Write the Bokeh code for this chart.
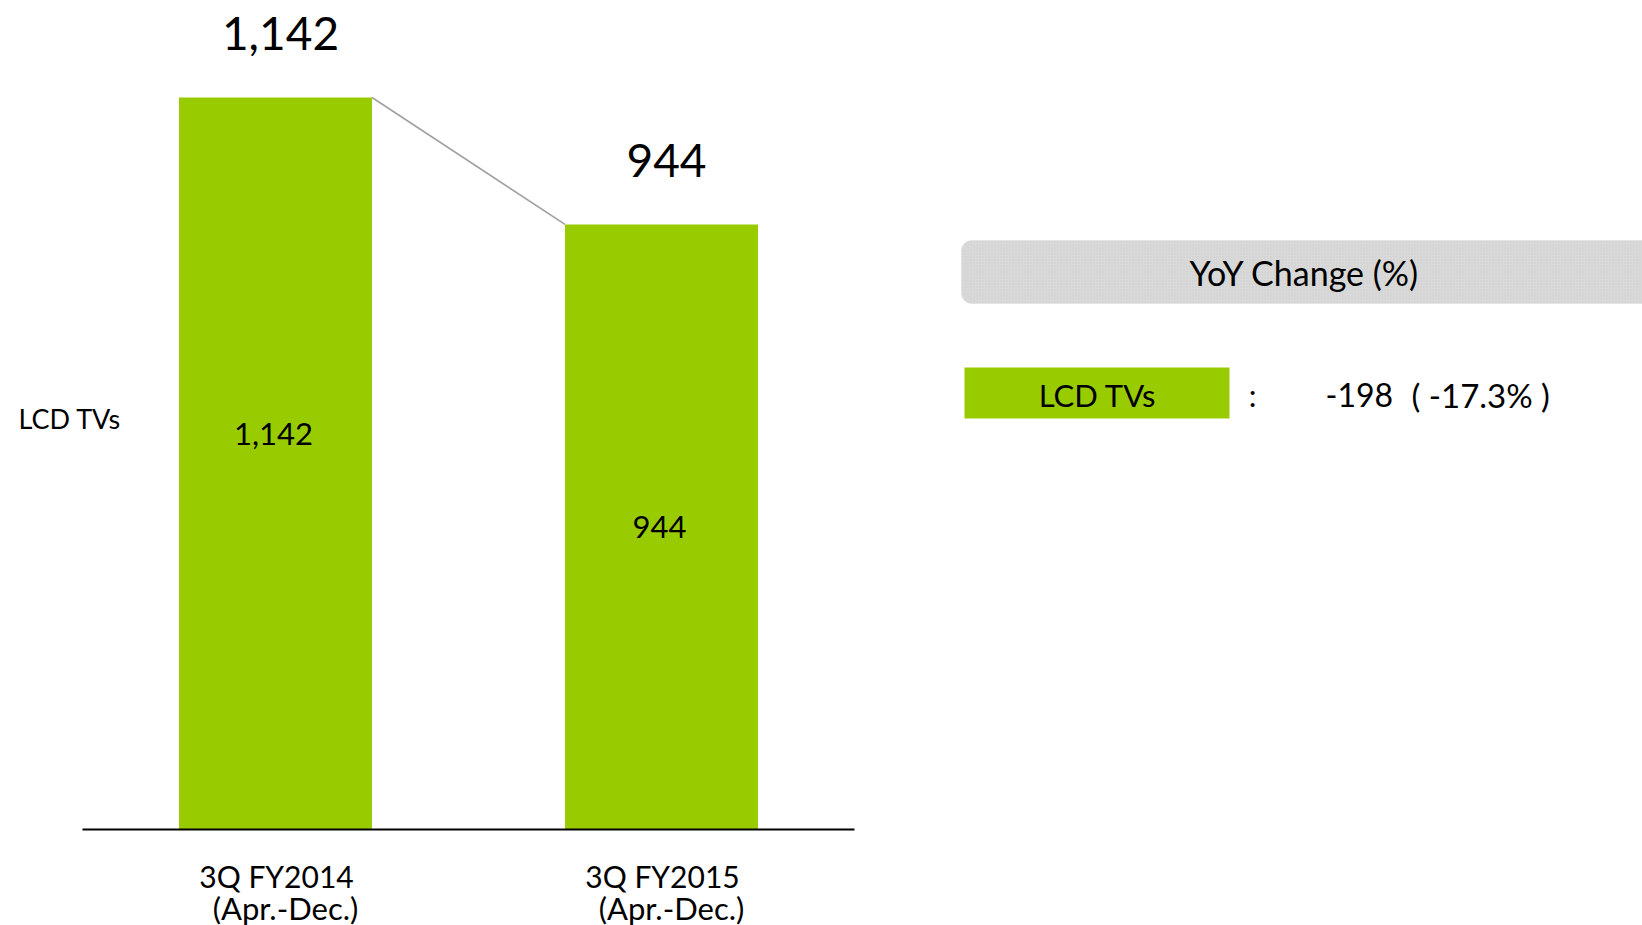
from bokeh.plotting import figure
from bokeh.models import Range1d, BoxAnnotation
from bokeh.core.properties import value
from bokeh.embed import file_html
from bokeh.resources import INLINE

# ---- data ----
categories = ["3Q FY2014", "3Q FY2015"]
period_labels = ["(Apr.-Dec.)", "(Apr.-Dec.)"]
series_name = "LCD TVs"
lcd_tvs = [1142, 944]
panel_title = "YoY Change (%)"

# ---- layout constants (pixels) ----
W, H = 1642, 925
GREEN = "#99CC00"
FONT = value("Lato")
BASE_PX = 829            # baseline, from top
PX_PER_UNIT = 732 / 1142
CAT0_PX = 275
CAT_STEP = 386
BAR_W = 0.5
INNER_FRAC = [0.54, 0.50]

x_start = -CAT0_PX / CAT_STEP
x_end = (W - CAT0_PX) / CAT_STEP
y_start = -(H - BASE_PX) / PX_PER_UNIT
y_end = BASE_PX / PX_PER_UNIT

p = figure(width=W, height=H, x_range=Range1d(x_start, x_end),
           y_range=Range1d(y_start, y_end), output_backend="svg",
           toolbar_location=None, min_border=0, outline_line_color=None,
           x_axis_location=None, y_axis_location=None)
p.grid.visible = False
p.background_fill_color = "white"
p.extra_x_ranges = {"px": Range1d(0, W)}
p.extra_y_ranges = {"px": Range1d(H, 0)}

xs = list(range(len(categories)))

# bars
p.vbar(x=xs, top=lcd_tvs, bottom=0, width=BAR_W, fill_color=GREEN, line_color=None)

# baseline
p.segment(x0=[-0.5], y0=[0], x1=[len(categories) - 0.5], y1=[0], line_color="black", line_width=2)

# connector lines between consecutive bar tops
p.segment(x0=[i + BAR_W / 2 for i in xs[:-1]], y0=lcd_tvs[:-1],
          x1=[i + 1 - BAR_W / 2 for i in xs[:-1]], y1=lcd_tvs[1:],
          line_color="#A0A0A0", line_width=1.6)

# top value labels
p.text(x=xs, y=lcd_tvs, text=[f"{v:,}" for v in lcd_tvs], text_align="center",
       text_baseline="middle", y_offset=-64, x_offset=5, text_font=FONT,
       text_font_size="46px", text_color="black")

# inner labels
p.text(x=xs, y=[v * f for v, f in zip(lcd_tvs, INNER_FRAC)], text=[f"{v:,}" for v in lcd_tvs],
       text_align="center", text_baseline="middle", x_offset=-2, text_font=FONT,
       text_font_size="31px", text_color="black")

# category labels
p.text(x=xs, y=[0] * len(xs), text=categories, text_align="center", text_baseline="middle",
       y_offset=46, x_offset=1, text_font=FONT, text_font_size="30px", text_color="black")
p.text(x=xs, y=[0] * len(xs), text=period_labels, text_align="center", text_baseline="middle",
       y_offset=78, x_offset=10, text_font=FONT, text_font_size="31px", text_color="black")

# series label at left
p.text(x=[18], y=[418], text=[series_name], text_align="left", text_baseline="middle",
       text_font=FONT, text_font_size="27px", text_color="black",
       x_range_name="px", y_range_name="px")

# ---- right panel ----
box = BoxAnnotation(left=961, right=W + 40, top=240, bottom=303, x_range_name="px",
                    y_range_name="px", fill_color="#D9D9D9", fill_alpha=1.0,
                    line_color="#D0D0D0", border_radius=10, level="underlay",
                    hatch_pattern="dot", hatch_color="#C6C6C6", hatch_scale=3, hatch_alpha=0.6)
p.add_layout(box)
p.text(x=[1304], y=[272], text=[panel_title], text_align="center", text_baseline="middle",
       text_font=FONT, text_font_size="34px", text_color="black",
       x_range_name="px", y_range_name="px")

p.quad(left=[964], right=[1229], top=[367], bottom=[418], fill_color=GREEN, line_color=None,
       x_range_name="px", y_range_name="px")
p.text(x=[1097], y=[394], text=[series_name], text_align="center", text_baseline="middle",
       text_font=FONT, text_font_size="31px", text_color="black",
       x_range_name="px", y_range_name="px")

diff = lcd_tvs[1] - lcd_tvs[0]
pct = diff / lcd_tvs[0] * 100
p.text(x=[1252], y=[394], text=[":"], text_align="center", text_baseline="middle",
       text_font=FONT, text_font_size="31px", text_color="black",
       x_range_name="px", y_range_name="px")
p.text(x=[1325], y=[394], text=[f"{diff:,}"], text_align="left", text_baseline="middle",
       text_font=FONT, text_font_size="32px", text_color="black",
       x_range_name="px", y_range_name="px")
p.text(x=[1411], y=[394], text=[f"( {pct:.1f}% )"], text_align="left", text_baseline="middle",
       text_font=FONT, text_font_size="33px", text_color="black",
       x_range_name="px", y_range_name="px")

open("out.html", "w").write(file_html(p, INLINE))
